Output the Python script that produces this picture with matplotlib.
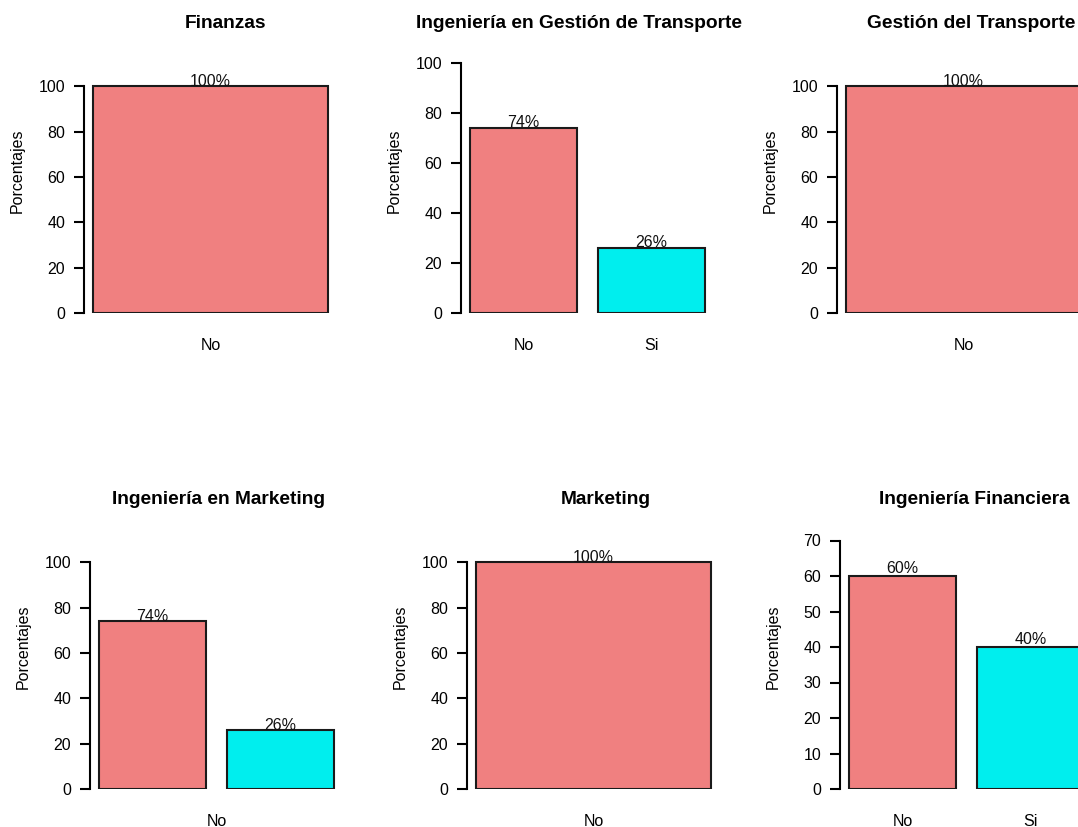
import matplotlib
import matplotlib.pyplot as plt
import numpy as np

matplotlib.rcParams.update({"font.family": ["Liberation Sans", "DejaVu Sans"]})

# one panel per career, share of "No" / "Si" answers (%)
titles = [
    "Finanzas",
    "Ingeniería en Gestión de Transporte",
    "Gestión del Transporte",
    "Ingeniería en Marketing",
    "Marketing",
    "Ingeniería Financiera",
]
values = [[100], [74, 26], [100], [74, 26], [100], [60, 40]]
names = [["No"], ["No", "Si"], ["No"], ["No"], ["No"], ["No", "Si"]]
y_lim = [125.3, 113.6, 125.3, 125.3, 125.3, 80.0]
y_tick_max = [100, 100, 100, 100, 100, 70]
y_tick_step = [20, 20, 20, 20, 20, 10]
bar_colors = ["#F08080", "#00EEEE"]

# layout in pixels of the 1078x827 image
W, H = 1078, 827
region_left = [84, 461, 837, 90, 467, 840]
title_x = [226, 579, 971, 219, 606, 974]
region_w = 253
zero_y = 313
row_step = 476
region_top = 29

fig = plt.figure(figsize=(W / 100, H / 100), dpi=100)

for i, title in enumerate(titles):
    r = i // 3
    L = region_left[i]
    Z = zero_y + row_step * r
    T = region_top + row_step * r
    ax = fig.add_axes([L / W, 1 - Z / H, region_w / W, (Z - T) / H])

    vals = values[i]
    n = len(vals)
    x = 0.7 + 1.2 * np.arange(n)
    span = 1.2 * n - 0.2
    ax.bar(x, vals, width=1.0, color=bar_colors[:n], edgecolor="#1a1a1a", linewidth=1.5)
    ax.set_xlim(0.2 - 0.04 * span, 0.2 + span + 0.04 * span)
    ax.set_ylim(0, y_lim[i])

    for xi, v in zip(x, vals):
        ax.annotate(f"{v}%", xy=(xi, v + 2.5), xytext=(0, -4.1), textcoords="offset points",
                    ha="center", va="baseline", fontsize=11.5, color="#111111")

    if len(names[i]) == n:
        ax.set_xticks(x, names[i])
    else:
        ax.set_xticks([x.mean()], names[i])
    ax.tick_params(axis="x", length=0, pad=18, labelsize=11.5)

    ax.set_yticks(np.arange(0, y_tick_max[i] + 1, y_tick_step[i]))
    ax.tick_params(axis="y", length=7.5, width=1.5, pad=6, labelsize=11.5)
    for side in ["top", "right", "bottom"]:
        ax.spines[side].set_visible(False)
    ax.spines["left"].set_bounds(0, y_tick_max[i])
    ax.spines["left"].set_linewidth(1.5)
    ax.patch.set_alpha(0)

    fig.text(title_x[i] / W, 1 - (24 + row_step * r) / H, title, ha="center", va="center",
             fontsize=13.8, fontweight="bold")
    fig.text((L - 67) / W, 1 - (171 + row_step * r) / H, "Porcentajes", rotation=90,
             ha="center", va="center", fontsize=11.5)

fig.savefig("out.png", dpi=100)
